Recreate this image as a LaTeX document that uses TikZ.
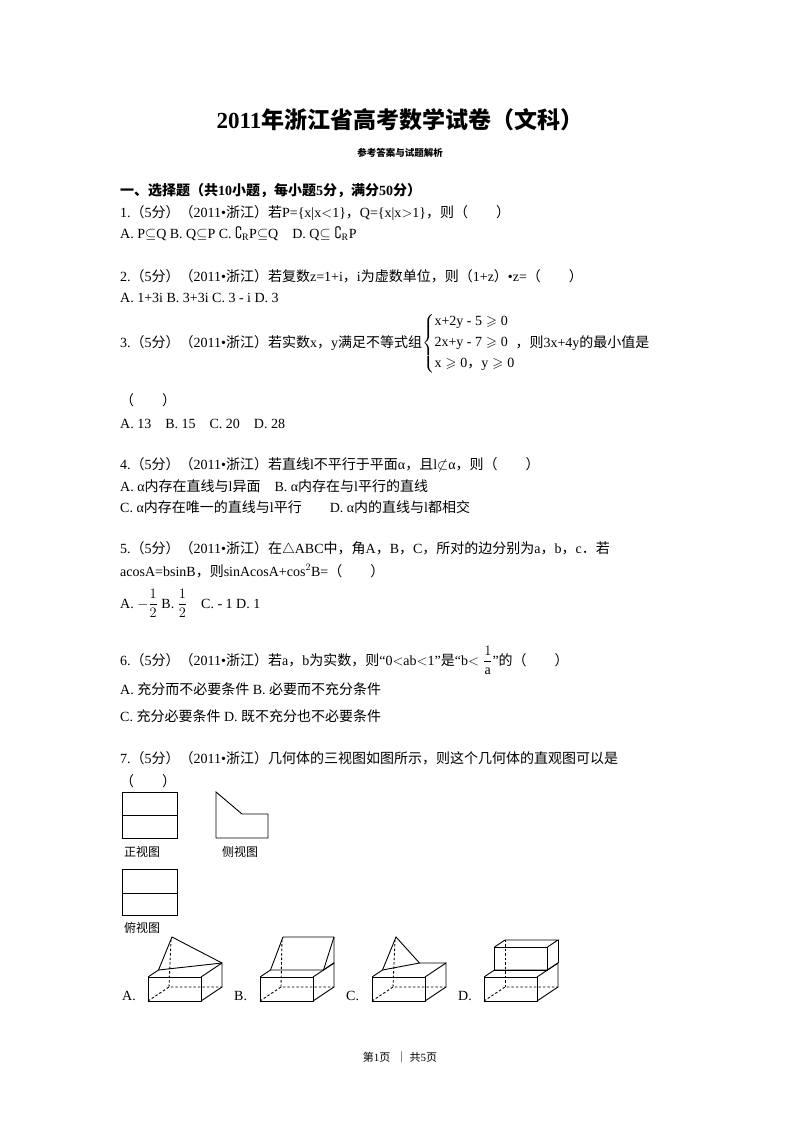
\documentclass[tikz,border=0pt]{standalone}
\usepackage{amsmath,amssymb}
\usepackage{fontspec}
\setmainfont{Liberation Serif}
\newfontfamily\cjk{Noto Sans CJK SC}
\XeTeXinterchartokenstate=1
\newXeTeXintercharclass\cjkclass
\makeatletter
\def\setcjkrange#1#2{\count@=#1\relax\loop\XeTeXcharclass\count@=\cjkclass\ifnum\count@<#2\advance\count@ 1\repeat}
\makeatother
\setcjkrange{"4E00}{"9FFF}
\setcjkrange{"3000}{"303F}
\setcjkrange{"FF00}{"FFEF}
\XeTeXinterchartoks 0 \cjkclass = {\cjk}
\XeTeXinterchartoks 4095 \cjkclass = {\cjk}
\XeTeXinterchartoks \cjkclass 0 = {\rmfamily}
\XeTeXinterchartoks \cjkclass 4095 = {\rmfamily}
\tikzset{t/.style={anchor=base west,inner sep=0pt,font=\fontsize{14}{17}\selectfont},
 ln/.style={line width=0.9pt},
 dl/.style={line width=0.9pt,dashed,dash pattern=on 2.5pt off 2pt}}
\newcommand\solidbase[1]{%
 \begin{scope}[shift={(#1,0)}]
 \draw[ln] (148,977) rectangle (201,1001);
 \draw[ln] (201,1001)--(222,987)--(222,963)--(201,977);
 \draw[dl] (148,1001)--(169,987)--(222,987);
 \end{scope}}
\begin{document}
\begin{tikzpicture}[x=1pt,y=-1pt]
\useasboundingbox (0,0) rectangle (800,1132);
\fill[white] (0,0) rectangle (800,1132);
\node[anchor=base,inner sep=0pt,font=\fontsize{23}{27}\selectfont\bfseries] (title) at (400,128) {2011年浙江省高考数学试卷（文科）};
\node[anchor=base,inner sep=0pt,font=\fontsize{9.5}{11}\selectfont\bfseries] (sub) at (400,156) {参考答案与试题解析};
\node[t,font=\fontsize{14}{17}\selectfont\bfseries] (sec) at (120,195) {一、选择题（共10小题，每小题5分，满分50分）};
\node[t] (q1) at (120,217) {1.（5分）（2011•浙江）若P=\{x|x$<$1\}，Q=\{x|x$>$1\}，则（　　）};
\node[t] (q1a) at (120,238) {A. P$\subseteq$Q B. Q$\subseteq$P C. $\complement_{\mathrm R}$P$\subseteq$Q\quad D. Q$\subseteq\complement_{\mathrm R}$P};
\node[t] (q2) at (120,281) {2.（5分）（2011•浙江）若复数z=1+i，i为虚数单位，则（1+z）•z=（　　）};
\node[t] (q2a) at (120,302) {A. 1+3i B. 3+3i C. 3 - i D. 3};
\node[t] (q3) at (120,347) {3.（5分）（2011•浙江）若实数x，y满足不等式组$\left\{\begin{array}{@{}l@{}}\text{x+2y - 5}\geqslant\text{0}\\[4pt] \text{2x+y - 7}\geqslant\text{0}\\[4pt] \text{x}\geqslant\text{0，y}\geqslant\text{0}\end{array}\right.$，则3x+4y的最小值是};
\node[t] (q3b) at (120,405) {（　　）};
\node[t] (q3a) at (120,428) {A.\ 13\quad B.\ 15\quad C.\ 20\quad D.\ 28};
\node[t] (q4) at (120,469) {4.（5分）（2011•浙江）若直线l不平行于平面α，且l$\not\subset$α，则（　　）};
\node[t] (q4a) at (120,491) {A. α内存在直线与l异面\quad B. α内存在与l平行的直线};
\node[t] (q4c) at (120,512) {C. α内存在唯一的直线与l平行\qquad D. α内的直线与l都相交};
\node[t] (q5) at (120,553) {5.（5分）（2011•浙江）在$\triangle$ABC中，角A，B，C，所对的边分别为a，b，c．若};
\node[t] (q5b) at (120,576) {acosA=bsinB，则sinAcosA+cos$^2$B=（　　）};
\node[t] (q5a) at (120,608) {A.\ $-\dfrac12$ B. $\dfrac12$\quad C.\ - 1\ D.\ 1};
\node[t] (q6) at (120,665) {6.（5分）（2011•浙江）若a，b为实数，则“0$<$ab$<$1”是“b$<\dfrac{1}{\text{a}}$”的（　　）};
\node[t] (q6a) at (120,694) {A. 充分而不必要条件 B. 必要而不充分条件};
\node[t] (q6c) at (120,721) {C. 充分必要条件 D. 既不充分也不必要条件};
\node[t] (q7) at (120,763) {7.（5分）（2011•浙江）几何体的三视图如图所示，则这个几何体的直观图可以是};
\node[t] (q7b) at (120,786) {（　　）};
% three views
\draw[ln] (122,792) rectangle (177,838); \draw[ln] (122,815)--(177,815);
\draw[ln] (216,792)--(242,814)--(268,814)--(268,838)--(216,838)--cycle;
\draw[ln] (122,869) rectangle (177,915); \draw[ln] (122,893)--(177,893);
\node[t,font=\fontsize{12}{14}\selectfont] (v1) at (124,856) {正视图};
\node[t,font=\fontsize{12}{14}\selectfont] (v2) at (222,856) {侧视图};
\node[t,font=\fontsize{12}{14}\selectfont] (v3) at (124,932) {俯视图};
% A
\solidbase{0}
\draw[ln] (148,977)--(158.5,970)--(222,963);
\draw[ln] (158.5,970)--(172,937)--(222,963);
\draw[dl] (169,987)--(171,940);
% B
\solidbase{112}
\draw[ln] (260,977)--(270.5,970)--(323.5,970)--(334,963);
\draw[ln] (270.5,970)--(283,937)--(334,937)--(334,963);
\draw[ln] (323.5,970)--(334,937);
\draw[dl] (281,987)--(282,940);
% C
\solidbase{224}
\draw[ln] (372,977)--(382.5,970)--(396,937)--(419.5,963)--(446,963);
\draw[ln] (382.5,970)--(419.5,963);
\draw[dl] (393,987)--(395,940);
% D
\solidbase{336}
\draw[ln] (484,977)--(494.5,970)--(547.5,970)--(558,963);
\draw[ln] (494.5,970) rectangle (547.5,947);
\draw[ln] (494.5,947)--(505,940)--(558,940)--(547.5,947);
\draw[ln] (558,940)--(558,963);
\draw[dl] (505,987)--(505,940);
\node[t] (la) at (122,1000) {A.};
\node[t] (lb) at (234,1000) {B.};
\node[t] (lc) at (346,1000) {C.};
\node[t] (ld) at (458,1000) {D.};
\node[anchor=base,inner sep=0pt,font=\fontsize{11}{13}\selectfont] (foot) at (400,1061) {第1页\ \ ｜ 共5页};
\end{tikzpicture}
\end{document}
